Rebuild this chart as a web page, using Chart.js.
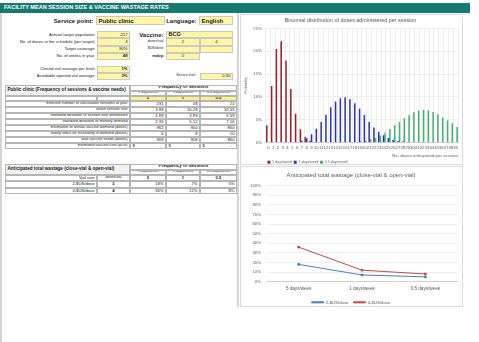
<!DOCTYPE html>
<html>
<head>
<meta charset="utf-8">
<script src="https://cdn.jsdelivr.net/npm/chart.js@4.4.1/dist/chart.umd.min.js"></script>
<style>
  body { margin: 0; width: 479px; height: 342px; background: #fff; font-family: 'Liberation Sans Narrow', 'Liberation Sans', Arial, sans-serif; color: #222; overflow: hidden; position: relative; }
  .c { position: absolute; box-sizing: border-box; font-size: 4.2px; line-height: 1; display: flex; align-items: center; white-space: nowrap; overflow: hidden; }
  .r { justify-content: flex-end; padding-right: 1.5px; }
  .m { justify-content: center; }
  .l { justify-content: flex-start; padding-left: 1.5px; }
  .b { font-weight: bold; }
  .y { background: #fdf6a3; border: 0.5px solid #c9c9c9; }
  .g { border: 0.5px solid #b5b5b5; }
  .h { background: #f2f2f2; }
  .box { position: absolute; box-sizing: border-box; }
</style>
</head>
<body>
<div class="box" style="left:0;top:3px;width:470px;height:10px;background:#177a72;"></div>
<div class="c b" style="left:4px;top:3px;height:10px;color:#fff;font-size:5.6px;">FACILITY MEAN SESSION SIZE &amp; VACCINE WASTAGE RATES</div>
<div class="box" style="left:0;top:13px;width:1.5px;height:329px;background:#d4d4d4;"></div>
<div class="box" style="left:237px;top:13px;width:1.5px;height:294px;background:#d4d4d4;"></div>
<div id="left"></div>

<div class="box" style="left:240px;top:14px;width:223px;height:151px;border:1px solid #d9d9d9;overflow:hidden;">
  <canvas id="binom" width="221" height="149"></canvas>
</div>
<div class="box" style="left:240px;top:166px;width:223px;height:141px;border:1px solid #d9d9d9;overflow:hidden;">
  <canvas id="wastage" width="221" height="139"></canvas>
</div>

<script>
// ---- data ----
const doseLabels = ['0','1','2','3','4','5','6','7','8','9','10','11','12','13','14','15','16','17','18','19',
  '20','21','22','23','24','25','26','27','28','29','30','31','32','33','34','35','36','37','38','39'];
const fiveDays = [3.8,12.4,20.5,22.2,18.0,11.7,6.3,2.9,1.2,0.4,0.1,0,0,0,0,0,0,0,0,0,
  0,0,0,0,0,0,0,0,0,0,0,0,0,0,0,0,0,0,0,0];
const oneDay = [0,0,0,0,0,0,0.1,0.4,0.9,1.8,3.0,4.5,6.1,7.7,9.0,9.7,9.9,9.5,8.6,7.4,
  6.0,4.5,3.3,2.3,1.6,1.0,0.6,0.3,0.2,0.1,0,0,0,0,0,0,0,0,0,0];
const halfDay = [0,0,0,0,0,0,0,0,0,0,0,0,0,0,0,0,0,0,0.1,0.2,
  0.4,0.7,1.0,1.5,2.2,2.9,3.8,4.5,5.3,6.0,6.6,7.0,7.1,7.0,6.7,6.2,5.5,4.8,4.2,3.4];
const probTicks = [0, 5, 10, 15, 20, 25];

const freqLabels = ['5 days/week', '1 days/week', '0.5 days/week'];
const freqValues = ['5', '1', '0.5'];
const wastage2 = [18, 7, 5];
const wastage4 = [36, 12, 8];

const needsRows = [
  ['Effective number of vaccination sessions of year', '231', '48', '24'],
  ['Mean session size', '3.98', '16.28', '32.55'],
  ['Standard deviation of session size distribution', '1.89', '3.99', '5.59'],
  ['Standard deviation of monthly demand', '2.35', '5.12', '7.16'],
  ['Estimation of annual vaccine demand (doses)', '962', '900', '850'],
  ['Safety stock for incertainty in demand (doses)', '6', '8', '10'],
  ['Total vaccine needs (doses)', '968', '908', '860'],
];

// ---- left side sheet ----
const left = document.getElementById('left');
function cell(x, y, w, h, text, cls, style) {
  const d = document.createElement('div');
  d.className = 'c ' + (cls || '');
  d.style.left = x + 'px'; d.style.top = y + 'px';
  d.style.width = w + 'px'; d.style.height = h + 'px';
  if (style) d.style.cssText += style;
  d.textContent = text;
  left.appendChild(d);
  return d;
}

cell(20, 16, 75, 9, 'Service point:', 'r b', 'font-size:6px;');
cell(96, 16, 69, 9, 'Public clinic', 'l b y', 'font-size:6px;');
cell(160, 16, 38, 9, 'Language:', 'r b', 'font-size:6px;');
cell(199, 16, 34, 9, 'English', 'l b y', 'font-size:6px;');

const inputs = [['Annual target population', '217', ''], ['No. of doses in the schedule (per target)', '4', ''],
  ['Target coverage', '90%', ''], ['No. of weeks in year', '48', 'b']];
inputs.forEach((r, i) => {
  const y = 31 + i * 7.3;
  cell(5, y, 91, 7.3, r[0], 'r');
  cell(97, y, 33, 7.3, r[1], 'r y ' + r[2]);
});
cell(135, 31, 30, 7.3, 'Vaccine:', 'r b', 'font-size:6px;');
cell(166, 31, 67, 7.3, 'BCG', 'l b y', 'font-size:5.5px;');
cell(135, 38.3, 30, 7.3, 'doses/vial', 'r', 'font-size:3.6px;');
cell(166, 38.3, 34, 7.3, '2', 'm y');
cell(200, 38.3, 33, 7.3, '4', 'm y');
cell(135, 45.6, 30, 7.3, '$US/dose', 'r', 'font-size:3.6px;');
cell(166, 45.6, 34, 7.3, '', 'm y');
cell(200, 45.6, 33, 7.3, '', 'm y');
cell(135, 52.9, 30, 7.3, 'mdvp', 'r b');
cell(166, 52.9, 34, 7.3, '0', 'm y');

cell(5, 65.5, 91, 7, 'Closed vial wastage per level', 'r');
cell(97, 65.5, 33, 7, '1%', 'r y b');
cell(5, 72.5, 91, 7, 'Avoidable opened vial wastage', 'r');
cell(97, 72.5, 33, 7, '3%', 'r y b');
cell(160, 72.5, 37, 7, 'Service level', 'r', 'font-size:3.4px;');
cell(200, 72.5, 33, 7, '0.90', 'r y');

// table 1
const cx = [130, 166, 200, 237];
cell(5, 85, 125, 11, 'Public clinic (Frequency of sessions & vaccine needs)', 'l b g h', 'font-size:4.6px;');
cell(130, 85, 107, 5.5, 'Frequency of sessions', 'm b g', 'font-size:4.6px;');
freqLabels.forEach((t, i) => cell(cx[i], 90.5, cx[i + 1] - cx[i], 5, t, 'm g', 'font-size:3.6px;'));
cell(5, 95.5, 92, 5.5, '', 'g');
cell(97, 95.5, 33, 5.5, '', 'g');
freqValues.forEach((t, i) => cell(cx[i], 95.5, cx[i + 1] - cx[i], 5.5, t, 'm b g', 'background:#fdf28a;'));
needsRows.forEach((r, j) => {
  const y = 101 + j * 6;
  cell(5, y, 125, 6, r[0], 'r g', 'font-size:3.8px;');
  for (let i = 0; i < 3; i++) cell(cx[i], y, cx[i + 1] - cx[i], 6, r[i + 1], 'r g');
});
cell(5, 143, 125, 6, 'Estimated vaccine cost ($US)', 'r g', 'font-size:3.8px;');
for (let i = 0; i < 3; i++) {
  const d = cell(cx[i], 143, cx[i + 1] - cx[i], 6, '', 'g', 'justify-content:space-between;padding:0 4px 0 1.5px;');
  d.innerHTML = '<span>$</span><span>-</span>';
}

// table 2
cell(5, 164, 125, 10.5, 'Anticipated total wastage (close-vial & open-vial)', 'l b g h', 'font-size:4.6px;');
cell(130, 164, 107, 5.5, 'Frequency of sessions', 'm b g', 'font-size:4.6px;');
freqLabels.forEach((t, i) => cell(cx[i], 169.5, cx[i + 1] - cx[i], 5, t, 'm g', 'font-size:3.6px;'));
cell(5, 174.5, 92, 6.5, 'Vial size', 'r g');
cell(97, 174.5, 33, 6.5, 'doses/vial', 'm g', 'font-size:3.6px;');
freqValues.forEach((t, i) => cell(cx[i], 174.5, cx[i + 1] - cx[i], 6.5, t, 'm b g'));
[['2-$US/dose', '2', wastage2], ['4-$US/dose', '4', wastage4]].forEach((r, j) => {
  const y = 181 + j * 6.5;
  cell(5, y, 92, 6.5, r[0], 'r g');
  cell(97, y, 33, 6.5, r[1], 'm g b');
  r[2].forEach((v, i) => cell(cx[i], y, cx[i + 1] - cx[i], 6.5, v + '%', 'r g'));
});

// ---- charts ----
const grey = '#595959';
const tickFont = { size: 4.3, family: 'Liberation Sans' };

new Chart(document.getElementById('binom'), {
  type: 'bar',
  data: {
    labels: doseLabels,
    datasets: [
      { label: '5 days/week', data: fiveDays, backgroundColor: '#9b2229' },
      { label: '1 days/week', data: oneDay, backgroundColor: '#2a36a4' },
      { label: '0.5 days/week', data: halfDay, backgroundColor: '#43b170' },
    ]
  },
  options: {
    responsive: false, animation: false,
    layout: { padding: { left: 2, right: 4, top: 0, bottom: -10 } },
    datasets: { bar: { categoryPercentage: 0.95, barPercentage: 1 } },
    plugins: {
      title: { display: true, text: 'Binomial distribution of doses administered per session', color: grey, font: { size: 5.4, weight: 'normal', family: 'Liberation Sans' }, padding: { top: 2, bottom: 5 } },
      legend: { position: 'bottom', align: 'start', fullSize: false, labels: { boxWidth: 3, boxHeight: 3, padding: 1.5, color: grey, font: { size: 3.6, family: 'Liberation Sans' } } },
      tooltip: { enabled: false }
    },
    scales: {
      x: {
        grid: { color: '#e3e3e3', lineWidth: 0.6, drawTicks: false },
        border: { color: '#d0d0d0' },
        ticks: { color: grey, font: tickFont, maxRotation: 0, autoSkip: false, padding: 3 },
        title: { display: true, text: 'No. doses anticipated per session', align: 'end', color: grey, font: { size: 4.4, family: 'Liberation Sans' }, padding: { top: 0, bottom: 0 } }
      },
      y: {
        min: 0, max: 25,
        grid: { color: '#e3e3e3', lineWidth: 0.6, drawTicks: false },
        border: { display: false },
        ticks: { stepSize: 5, autoSkip: false, color: grey, font: tickFont, padding: 4, callback: v => probTicks.includes(v) ? v + '%' : '' },
        title: { display: true, text: 'Probability', color: grey, font: { size: 3.6, family: 'Liberation Sans' }, padding: 1 }
      }
    }
  }
});

new Chart(document.getElementById('wastage'), {
  type: 'line',
  data: {
    labels: freqLabels,
    datasets: [
      { label: '2-$US/dose', data: wastage2.map(v => v / 100), borderColor: '#4a7ebb', backgroundColor: '#4a7ebb', borderWidth: 1, pointRadius: 1.2, pointStyle: 'rect' },
      { label: '4-$US/dose', data: wastage4.map(v => v / 100), borderColor: '#be4b48', backgroundColor: '#be4b48', borderWidth: 1, pointRadius: 1.2, pointStyle: 'rect' },
    ]
  },
  options: {
    responsive: false, animation: false,
    layout: { padding: { left: 3, right: 4, top: 0, bottom: -8.5 } },
    plugins: {
      title: { display: true, text: 'Anticipated total wastage (close-vial & open-vial)', color: grey, font: { size: 6, weight: 'normal', family: 'Liberation Sans' }, padding: { top: 5, bottom: 6.5 } },
      legend: { position: 'bottom', labels: { boxWidth: 12, boxHeight: 1, padding: 5, color: grey, font: { size: 4.3, family: 'Liberation Sans' } } },
      tooltip: { enabled: false }
    },
    scales: {
      x: {
        offset: true,
        grid: { display: false, drawTicks: false },
        border: { color: '#d0d0d0' },
        ticks: { color: grey, font: { size: 4.6, family: 'Liberation Sans' }, padding: 4 }
      },
      y: {
        min: 0, max: 1,
        grid: { color: '#e3e3e3', lineWidth: 0.6, drawTicks: false },
        border: { display: false },
        ticks: { stepSize: 0.1, autoSkip: false, color: grey, font: tickFont, padding: 6, callback: v => Math.round(v * 100) + '%' }
      }
    }
  }
});
</script>
</body>
</html>
